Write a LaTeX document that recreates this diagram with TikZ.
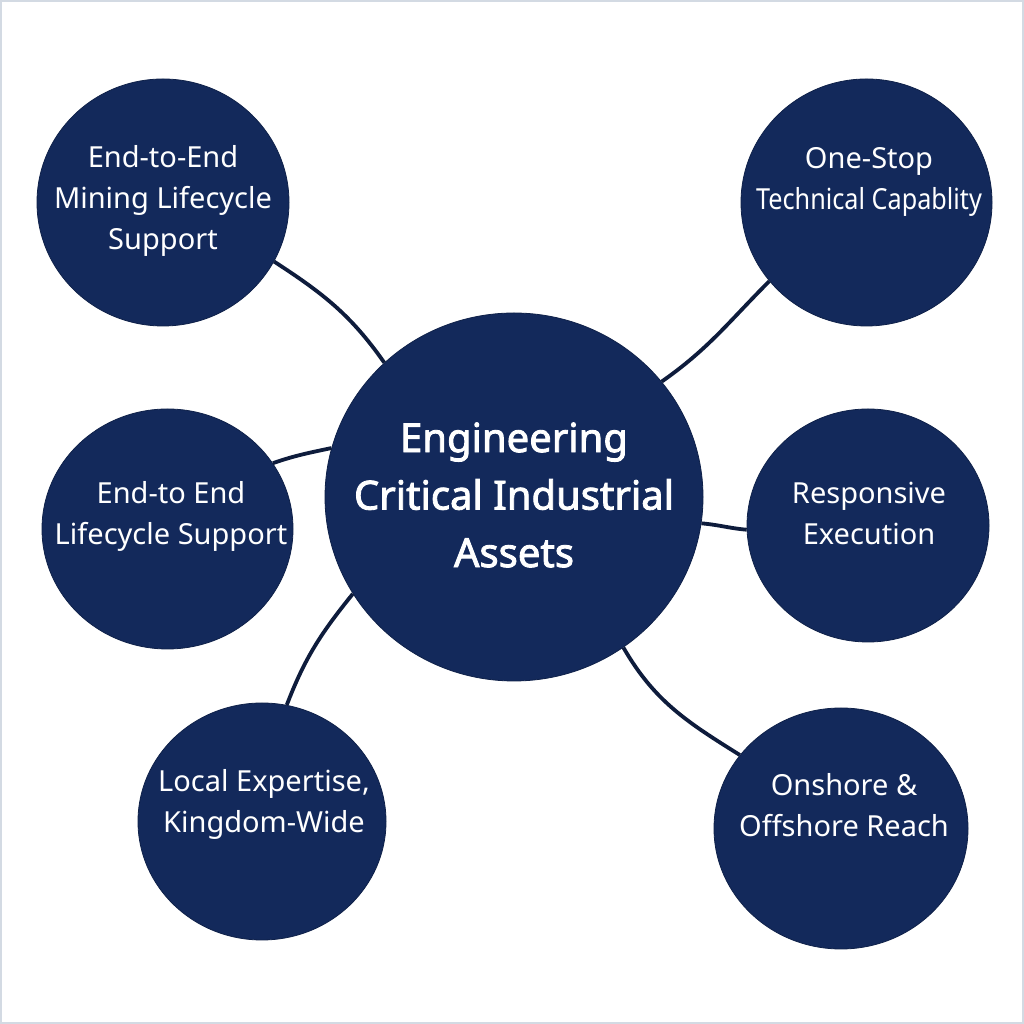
\documentclass[tikz,border=0pt]{standalone}
\usepackage{fontspec}
\setmainfont{Noto Sans}
\newfontfamily\hubfont{Noto Sans}[FakeBold=2.2]
\newfontfamily\narrowfont{Noto Sans}[FakeStretch=0.87]
\usetikzlibrary{shapes.geometric}
\definecolor{navy}{HTML}{13295B}
\definecolor{linkcol}{HTML}{0E1C3C}
\definecolor{framecol}{HTML}{D3DAE3}
\begin{document}
\begin{tikzpicture}[x=1pt,y=1pt,
    bubble/.style={ellipse,fill=navy,draw=navy!80!black,line width=0.8pt,inner sep=0pt},
    txt/.style={text=white,align=center,font=\fontsize{29}{41}\selectfont},
    link/.style={draw=linkcol,line width=3.8pt}]
    \useasboundingbox (0,0) rectangle (1024,1024);
    \fill[white] (0,0) rectangle (1024,1024);
    \draw[framecol,line width=2pt] (1,1) rectangle (1023,1023);
    % bubbles
    \node[bubble,minimum width=378,minimum height=368] (hub) at (514,527) {};
    \node[bubble,minimum width=252,minimum height=247] (mining) at (163,821.5) {};
    \node[bubble,minimum width=251,minimum height=247] (onestop) at (866.5,821.5) {};
    \node[bubble,minimum width=251,minimum height=240] (lifecycle) at (167.5,495) {};
    \node[bubble,minimum width=242,minimum height=233] (responsive) at (868,498.5) {};
    \node[bubble,minimum width=248,minimum height=237] (local) at (262,202.5) {};
    \node[bubble,minimum width=254,minimum height=241] (reach) at (841,195.5) {};
    % labels
    \node[txt,font=\hubfont\fontsize{40}{57.5}\selectfont] (hubtext) at (514,529) {Engineering\\Critical Industrial\\Assets};
    \node[txt] (miningtext) at (163,823) {End-to-End\\Mining Lifecycle\\Support};
    \node[txt] (onestoptext) at (869,842) {One-Stop\\{\narrowfont Technical Capablity}};
    \node[txt] (lifecycletext) at (171,508) {End-to End\\Lifecycle Support};
    \node[txt] (responsivetext) at (869,511) {Responsive\\Execution};
    \node[txt] (localtext) at (264,220) {Local Expertise,\\Kingdom-Wide};
    \node[txt] (reachtext) at (844,219) {Onshore \&\\Offshore Reach};
    % connectors
    \draw[link] (mining.-28) to[out=-33,in=125] (hub.134);
    \draw[link] (lifecycle.32) to[out=19,in=192] (hub.165);
    \draw[link] (hub.-149) to[out=-129,in=69] (local.78);
    \draw[link] (hub.38) to[out=35,in=225] (onestop.-141);
    \draw[link] (hub.-8.5) to[out=-5,in=175] (responsive.182);
    \draw[link] (hub.-54) to[out=-60,in=148] (reach.144);
\end{tikzpicture}
\end{document}
